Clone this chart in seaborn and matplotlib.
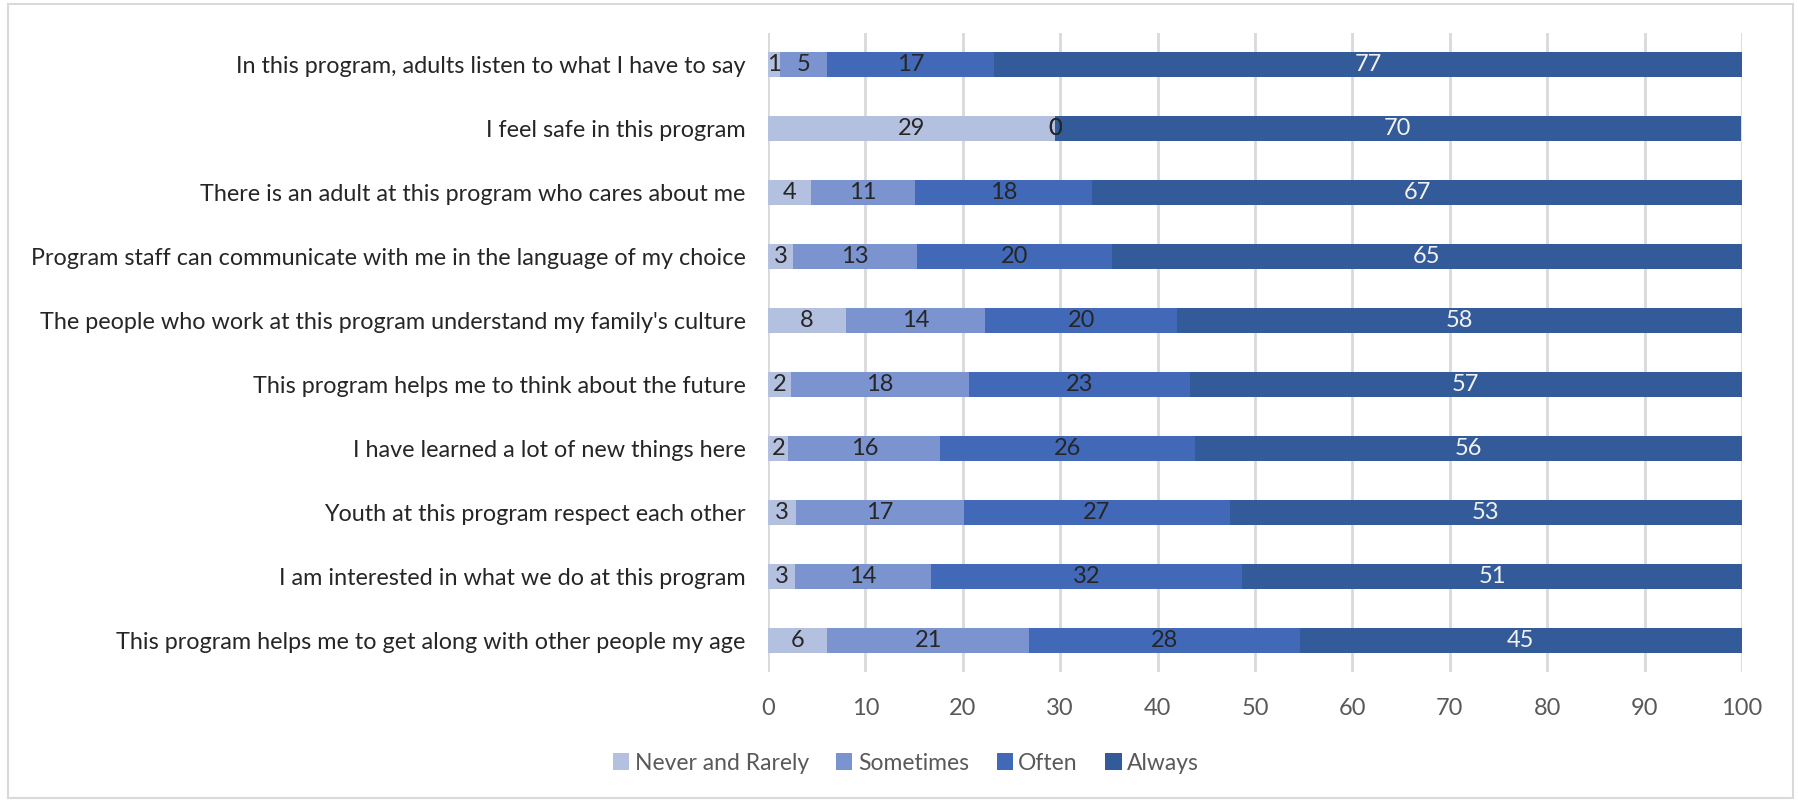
import matplotlib
matplotlib.use("Agg")
import matplotlib.pyplot as plt
import seaborn as sns
import pandas as pd
from matplotlib.patches import Rectangle, Patch

statements = [
    "In this program, adults listen to what I have to say",
    "I feel safe in this program",
    "There is an adult at this program who cares about me",
    "Program staff can communicate with me in the language of my choice",
    "The people who work at this program understand my family's culture",
    "This program helps me to think about the future",
    "I have learned a lot of new things here",
    "Youth at this program respect each other",
    "I am interested in what we do at this program",
    "This program helps me to get along with other people my age",
]
series_names = ["Never and Rarely", "Sometimes", "Often", "Always"]
never_rarely = [1.2, 29.45, 4.4, 2.6, 8.0, 2.4, 2.1, 2.9, 2.8, 6.1]
sometimes = [4.9, 0.0, 10.7, 12.7, 14.3, 18.2, 15.6, 17.2, 13.9, 20.7]
often = [17.1, 0.0, 18.2, 20.0, 19.7, 22.7, 26.1, 27.3, 32.0, 27.8]
always = [76.8, 70.45, 66.7, 64.7, 58.0, 56.7, 56.2, 52.6, 51.3, 45.4]
x_ticks = [0, 10, 20, 30, 40, 50, 60, 70, 80, 90, 100]

colors = ["#B4C0E0", "#7B93CF", "#4169B8", "#335A99"]
label_colors = ["#262626", "#262626", "#262626", "#F2F2F2"]

sns.set_style("white")
plt.rcParams["font.family"] = ["Lato", "DejaVu Sans"]

df = pd.DataFrame({"statement": statements, "Never and Rarely": never_rarely,
                   "Sometimes": sometimes, "Often": often, "Always": always})
cum = df[series_names].cumsum(axis=1)

fig = plt.figure(figsize=(17.98, 8.01), dpi=100)
ax = fig.add_axes([768 / 1798, 1 - 672 / 801, (1742 - 768) / 1798, (672 - 33) / 801])

for i in reversed(range(4)):
    name = series_names[i]
    sns.barplot(x=cum[name], y=df["statement"], orient="h", color=colors[i],
                width=0.39, saturation=1, linewidth=0, ax=ax, zorder=3)

for i, name in enumerate(series_names):
    for r in range(len(df)):
        v = df[name].iloc[r]
        c = cum[name].iloc[r] - v / 2
        ax.text(c, r, f"{v:.0f}", ha="center", va="center", fontsize=17,
                color=label_colors[i], zorder=5)

ax.set_xlim(0, 100)
ax.set_xticks(x_ticks)
ax.set_xlabel("")
ax.set_ylabel("")
for s in ax.spines.values():
    s.set_visible(False)
ax.grid(axis="x", color="#D9D9D9", linewidth=2, zorder=0)
ax.grid(axis="y", visible=False)
ax.set_axisbelow(True)
ax.tick_params(axis="y", length=0, pad=16, labelsize=16.8, labelcolor="#262626")
ax.tick_params(axis="x", length=0, pad=19, labelsize=17, labelcolor="#595959")

handles = [Patch(facecolor=colors[i], edgecolor="none", label=series_names[i]) for i in range(4)]
fig.legend(handles=handles, loc="center", bbox_to_anchor=(906 / 1798, 1 - 763 / 801),
           ncol=4, frameon=False, fontsize=16.5, labelcolor="#595959",
           handlelength=0.7, handleheight=0.7, handletextpad=0.25, columnspacing=1.2)

fig.patches.append(Rectangle((8 / 1798, 3 / 801), (1793 - 8) / 1798, (797 - 3) / 801,
                             transform=fig.transFigure, fill=False,
                             edgecolor="#D9D9D9", linewidth=1.5))

fig.savefig("out.png", dpi=100, facecolor="white")
